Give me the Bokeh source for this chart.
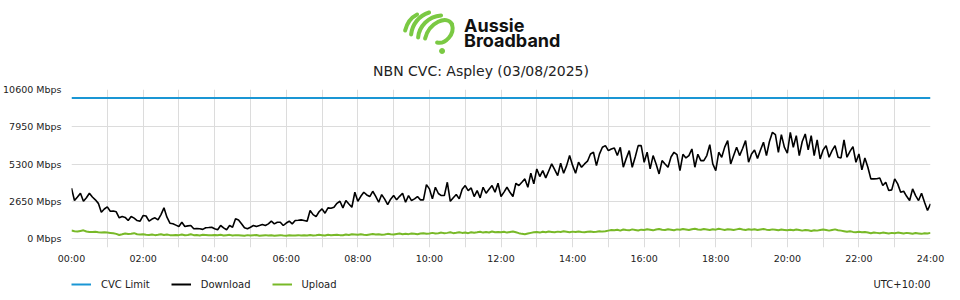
import numpy as np
from bokeh.plotting import figure
from bokeh.models import Range1d, FixedTicker, PrintfTickFormatter, Legend, LegendItem
from bokeh.layouts import column
from bokeh.embed import file_html
from bokeh.resources import INLINE
from bokeh.core.properties import value

# ---------------- data ----------------
title_text = "NBN CVC: Aspley (03/08/2025)"
brand_lines = ["Aussie", "Broadband"]
timezone_text = "UTC+10:00"
series_names = ["CVC Limit", "Download", "Upload"]
interval_minutes = 5
cvc_limit_mbps = 10000
y_ticks = [0, 2650, 5300, 7950, 10600]
x_tick_hours = list(range(0, 25, 2))
x_tick_labels = ["00:00", "02:00", "04:00", "06:00", "08:00", "10:00", "12:00",
                 "14:00", "16:00", "18:00", "20:00", "22:00", "24:00"]

download = [
    3575, 2700, 2950, 3220, 2650, 2900, 3220, 2950, 2750, 2500,
    1870, 2100, 2250, 1940, 1950, 1900, 1470, 1560, 1500, 1280,
    1560, 1450, 1280, 1230, 1635, 1600, 1230, 1380, 1470, 1320,
    1700, 2180, 1515, 1090, 1050, 950, 850, 1160, 850, 900,
    925, 690, 700, 690, 650, 760, 780, 805, 700, 620,
    925, 760, 620, 925, 800, 1400, 1320, 1050, 760, 690,
    800, 925, 850, 920, 995, 925, 1040, 1230, 1040, 1160,
    1160, 925, 1100, 1230, 1040, 1280, 1300, 1325, 1280, 1230,
    1990, 1700, 1560, 1900, 2110, 1800, 2180, 2150, 2225, 2500,
    2650, 2180, 2700, 2450, 2225, 3290, 2650, 3000, 3290, 3100,
    2985, 3360, 3000, 2580, 3125, 2800, 2415, 2800, 3055, 2750,
    3000, 3220, 2580, 3055, 2700, 2820, 2985, 2750, 2750, 3835,
    3530, 2820, 3645, 3200, 3055, 3055, 4000, 2650, 2900, 3125,
    2820, 3500, 3765, 3410, 3600, 2985, 3410, 2890, 3645, 3220,
    3500, 3765, 3290, 3930, 2985, 3300, 3645, 3290, 2985, 3930,
    3765, 4000, 4240, 3645, 4640, 3885, 4950, 4405, 4830, 4310,
    4800, 5305, 4900, 4475, 5350, 4640, 5185, 5900, 5200, 4640,
    5425, 5070, 5305, 5500, 6015, 6135, 5185, 6000, 6490, 6610,
    6250, 6370, 6440, 5900, 6490, 5070, 5700, 6250, 5070, 5800,
    6610, 6610, 5425, 6135, 4950, 5900, 5300, 4595, 5540, 5300,
    5070, 5800, 6135, 5970, 4830, 5990, 5730, 5900, 6370, 5070,
    5990, 5540, 5540, 5900, 6680, 5305, 4830, 6135, 5780, 6500,
    6965, 5305, 5900, 6490, 5900, 6400, 6965, 5425, 6015, 6300,
    5700, 6300, 6845, 5900, 6900, 7555, 7390, 6135, 7390, 6500,
    6065, 7555, 6490, 7320, 5900, 6900, 7435, 6300, 7320, 5900,
    7010, 5660, 6300, 6610, 5780, 6250, 6610, 5780, 5730, 7010,
    5780, 6200, 6535, 5425, 6015, 4880, 5730, 5070, 4240, 4240,
    4250, 4310, 3765, 4000, 3410, 3460, 4240, 3885, 3290, 3360,
    3000, 2700, 3530, 3055, 2700, 3220, 2580, 1990, 2465,
]

upload = [
    570, 520, 500, 540, 580, 500, 470, 460, 480, 450, 430, 440,
    420, 400, 380, 330, 250, 300, 360, 320, 340, 380, 300, 280,
    300, 260, 250, 280, 240, 260, 300, 250, 280, 240, 230, 250,
    240, 280, 230, 250, 300, 240, 250, 220, 260, 250, 230, 240,
    250, 230, 260, 220, 240, 260, 210, 240, 230, 220, 200, 240,
    210, 230, 250, 200, 220, 240, 210, 230, 200, 220, 240, 210,
    200, 230, 210, 220, 240, 210, 230, 220, 250, 210, 230, 260,
    240, 220, 260, 230, 250, 270, 240, 230, 280, 250, 300, 280,
    260, 300, 270, 250, 290, 320, 280, 300, 260, 290, 330, 300,
    280, 320, 350, 300, 330, 310, 360, 330, 300, 350, 380, 340,
    360, 400, 350, 380, 420, 370, 400, 440, 380, 410, 450, 400,
    420, 380, 450, 410, 440, 480, 420, 460, 430, 500, 450, 470,
    440, 480, 420, 460, 500, 440, 380, 330, 300, 350, 400, 440,
    460, 420, 480, 450, 500, 470, 440, 490, 460, 510, 480, 450,
    490, 460, 500, 470, 450, 480, 500, 460, 480, 520, 490, 510,
    560, 600, 580, 620, 560, 640, 600, 580, 650, 610, 570, 630,
    600, 660, 620, 580, 640, 680, 620, 600, 660, 630, 590, 650,
    620, 680, 640, 600, 660, 700, 640, 620, 670, 640, 600, 660,
    630, 690, 650, 610, 660, 640, 600, 650, 690, 640, 610, 660,
    620, 660, 600, 640, 680, 630, 600, 650, 620, 590, 640, 610,
    580, 620, 590, 640, 600, 560, 610, 580, 540, 590, 560, 600,
    640, 600, 560, 610, 650, 590, 560, 520, 480, 520, 470, 440,
    480, 440, 460, 420, 380, 430, 400, 370, 420, 390, 360, 400,
    370, 420, 390, 350, 400, 370, 340, 390, 360, 330, 380, 350,
    400,
]

# ---------------- styles ----------------
BLUE = "#1a96d4"
BLACK = "#000000"
GREEN = "#78b928"
LOGO_GREEN = "#7ac943"
GRID = "#dcdcdc"
TEXT = "#222222"
FONT = "DejaVu Sans"

n = len(download)
hours = np.arange(n) * interval_minutes / 60.0
cvc = [cvc_limit_mbps] * n

# The column aligns all frames to the chart frame (x = 70 .. 930 px),
# so the strips above and below use that same pixel span as their x range.
STRIP_X = Range1d(70, 930)


def strip(height):
    fig = figure(width=960, height=height, x_range=STRIP_X, y_range=Range1d(height, 0),
                 output_backend="svg", toolbar_location=None,
                 x_axis_location=None, y_axis_location=None,
                 min_border_left=70, min_border_right=30, min_border_top=0, min_border_bottom=0)
    fig.grid.visible = False
    fig.outline_line_color = None
    return fig


# ---------------- header: logo + title ----------------
head = strip(83)
head.bezier(x0=[404, 410, 417, 424, 451], y0=[30, 34, 37, 38, 24],
            x1=[416, 428, 440, 451, 436], y1=[14, 12, 15, 24, 42],
            cx0=[406, 411, 418, 428, 454], cy0=[22, 24, 26, 22, 34],
            cx1=[410, 418, 427, 446, 444], cy1=[17, 15, 16, 14, 44],
            line_color=LOGO_GREEN, line_width=4, line_cap="round")
head.scatter(x=[441], y=[50.5], size=5, color=LOGO_GREEN)
head.text(x=[463, 463], y=[24.5, 40], text=brand_lines,
          text_font=value("Inter"), text_font_style="bold", text_font_size="18px",
          text_color="#111111", text_baseline="middle")
head.text(x=[480], y=[70.5], text=[title_text], text_align="center", text_baseline="middle",
          text_font=value(FONT), text_font_size="14px", text_color=TEXT)

# ---------------- main chart ----------------
p = figure(width=960, height=189, x_range=Range1d(0, 24), y_range=Range1d(-640, 10600),
           output_backend="svg", toolbar_location=None,
           min_border_left=70, min_border_right=30, min_border_top=6, min_border_bottom=25)
p.outline_line_color = None

p.yaxis.ticker = FixedTicker(ticks=y_ticks)
p.yaxis.formatter = PrintfTickFormatter(format="%d Mbps")
p.xaxis.ticker = FixedTicker(ticks=x_tick_hours)
p.xaxis.major_label_overrides = {h: lab for h, lab in zip(x_tick_hours, x_tick_labels)}
for ax in (p.xaxis, p.yaxis):
    ax.axis_line_color = None
    ax.major_tick_line_color = None
    ax.minor_tick_line_color = None
    ax.major_tick_out = 0
    ax.major_tick_in = 0
    ax.major_label_text_font = FONT
    ax.major_label_text_font_size = "9.5px"
    ax.major_label_text_color = TEXT
p.yaxis.major_label_standoff = 10
p.xaxis.major_label_standoff = 5

p.xgrid.ticker = FixedTicker(ticks=list(range(25)))
p.xgrid.grid_line_color = GRID
p.ygrid.grid_line_color = GRID

p.line(hours, cvc, line_color=BLUE, line_width=2)
p.line(hours, upload, line_color=GREEN, line_width=2)
p.line(hours, download, line_color=BLACK, line_width=1.6)

# ---------------- footer: legend + timezone ----------------
foot = strip(28)
key_colors = [BLUE, BLACK, GREEN]
key_renderers = [foot.line(x=[np.nan], y=[np.nan], line_color=c, line_width=2) for c in key_colors]
legend = Legend(items=[LegendItem(label=name, renderers=[r])
                       for name, r in zip(series_names, key_renderers)],
                orientation="horizontal", location=(0, 10), padding=0, margin=0,
                spacing=21, glyph_width=20, glyph_height=12, label_height=12,
                label_standoff=10, label_text_font=FONT, label_text_font_size="10px",
                label_text_color=TEXT, border_line_color=None, background_fill_alpha=0)
foot.add_layout(legend)
foot.text(x=[930], y=[12], text=[timezone_text], text_align="right", text_baseline="middle",
          text_font=value(FONT), text_font_size="10px", text_color=TEXT)

layout = column(head, p, foot, spacing=0)
open("out.html", "w").write(file_html(layout, INLINE))
